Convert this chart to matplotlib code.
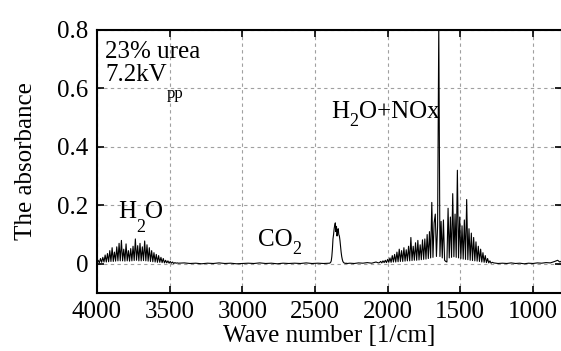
import matplotlib
matplotlib.use('Agg')
import matplotlib.pyplot as plt
from matplotlib.transforms import offset_copy
import numpy as np

plt.rcParams['font.family'] = 'Liberation Serif'

# H2O band, 4000 -> 3440 cm-1, step 8
h2o_wn = np.arange(4000, 3439, -8)
h2o_abs = [0.004, 0.012, 0.003, 0.018, 0.005, 0.022, 0.006, 0.030, 0.006, 0.035,
           0.007, 0.045, 0.008, 0.055, 0.008, 0.040, 0.009, 0.058, 0.010, 0.070,
           0.010, 0.080, 0.010, 0.050, 0.009, 0.068, 0.010, 0.045, 0.009, 0.052,
           0.010, 0.060, 0.011, 0.085, 0.012, 0.062, 0.010, 0.070, 0.010, 0.058,
           0.011, 0.078, 0.010, 0.065, 0.009, 0.055, 0.008, 0.045, 0.007, 0.038,
           0.006, 0.032, 0.005, 0.028, 0.005, 0.022, 0.004, 0.018, 0.003, 0.012,
           0.003, 0.010, 0.002, 0.008, 0.002, 0.006, 0.001, 0.004, 0.002, 0.003,
           0.002]

# quiet baseline between bands
base1_wn = [3400, 3360, 3320, 3280, 3240, 3200, 3160, 3120, 3080, 3040, 3000,
            2960, 2920, 2880, 2840, 2800, 2760, 2720, 2680, 2640, 2600, 2560,
            2520, 2480, 2440, 2404]
base1_abs = [0.003, 0.001, 0.002, 0.000, 0.002, 0.001, 0.003, 0.001, 0.002, 0.000,
             0.001, 0.002, 0.001, 0.003, 0.001, 0.002, 0.000, 0.002, 0.001, 0.002,
             0.001, 0.003, 0.001, 0.002, 0.001, 0.002]

# CO2 band, 2400 -> 2280 cm-1, step 4
co2_wn = np.arange(2400, 2279, -4)
co2_abs = [0.002, 0.003, 0.005, 0.010, 0.025, 0.050, 0.085, 0.100, 0.120, 0.132,
           0.140, 0.110, 0.128, 0.095, 0.115, 0.120, 0.100, 0.095, 0.080, 0.060,
           0.040, 0.025, 0.015, 0.008, 0.005, 0.003, 0.002, 0.002, 0.001, 0.002,
           0.001]

base2_wn = [2260, 2230, 2200, 2170, 2140, 2110, 2080, 2064]
base2_abs = [0.002, 0.001, 0.003, 0.002, 0.004, 0.002, 0.006, 0.003]

# H2O + NOx band, 2056 -> 1280 cm-1, step 8
nox_wn = np.arange(2056, 1279, -8)
nox_abs = [0.004, 0.008, 0.003, 0.010, 0.004, 0.012, 0.004, 0.015, 0.005, 0.020,
           0.005, 0.028, 0.006, 0.032, 0.006, 0.040, 0.007, 0.050, 0.008, 0.045,
           0.008, 0.055, 0.009, 0.048, 0.010, 0.060, 0.010, 0.090, 0.011, 0.060,
           0.012, 0.072, 0.012, 0.080, 0.013, 0.065, 0.014, 0.082, 0.015, 0.085,
           0.016, 0.100, 0.018, 0.110, 0.020, 0.210, 0.022, 0.140, 0.170, 0.025,
           0.130, 0.820, 0.025, 0.145, 0.020, 0.150, 0.012, 0.008, 0.006, 0.190,
           0.020, 0.160, 0.022, 0.240, 0.024, 0.170, 0.022, 0.320, 0.020, 0.160,
           0.018, 0.130, 0.016, 0.150, 0.015, 0.220, 0.014, 0.120, 0.012, 0.105,
           0.011, 0.090, 0.010, 0.075, 0.009, 0.060, 0.008, 0.050, 0.006, 0.038,
           0.005, 0.028, 0.004, 0.018, 0.003, 0.010, 0.002, 0.005]

base3_wn = [1270, 1240, 1210, 1180, 1150, 1120, 1090, 1060, 1030, 1000, 970,
            940, 910, 880, 850, 830, 815, 800]
base3_abs = [0.003, 0.001, 0.002, 0.001, 0.003, 0.001, 0.002, 0.000, 0.002, 0.001,
             0.003, 0.002, 0.004, 0.003, 0.008, 0.012, 0.006, 0.010]

wn = np.concatenate([h2o_wn, base1_wn, co2_wn, base2_wn, nox_wn, base3_wn])
ab = np.concatenate([h2o_abs, base1_abs, co2_abs, base2_abs, nox_abs, base3_abs])

fontsize = 18
fig = plt.figure(figsize=(5.61, 3.51), dpi=100)
ax = fig.add_axes([97 / 561, 1 - 293 / 351, 465 / 561, 263 / 351])

ax.plot(wn, ab, color='k', lw=0.8)

ax.set_xlim(4000, 800)
ax.set_ylim(-0.1, 0.8)
ax.set_xticks([4000, 3500, 3000, 2500, 2000, 1500, 1000])
ax.set_yticks([0, 0.2, 0.4, 0.6, 0.8])
ax.set_yticklabels(['0', '0.2', '0.4', '0.6', '0.8'])
ax.grid(True, ls=(0, (3, 3)), color='#a0a0a0', lw=0.8)
ax.tick_params(direction='in', length=5, width=1.2, top=True, right=True,
               labelsize=fontsize, pad=6)
for s in ax.spines.values():
    s.set_linewidth(1.5)

ax.set_xlabel('Wave number [1/cm]', fontsize=fontsize)
ax.set_ylabel('The absorbance', fontsize=fontsize)
ax.xaxis.set_label_coords(0.5, -0.12)
ax.yaxis.set_label_coords(-0.13, 0.5)


# text with hand-placed subscripts: parts are (string, drop in px, size)
def label(x, y, parts):
    renderer = fig.canvas.get_renderer()
    dx = 0
    for s, dy, fs in parts:
        tr = offset_copy(ax.transData, fig=fig, x=dx, y=-dy, units='dots')
        t = ax.text(x, y, s, fontsize=fs, va='baseline', transform=tr)
        dx += t.get_window_extent(renderer).width


label(3945, 0.705, [('23% urea', 0, fontsize)])
label(3945, 0.626, [('7.2kV', 0, fontsize), ('pp', 17, 12)])
label(3856, 0.158, [('H', 0, fontsize), ('2', 14, 13), ('O', 0, fontsize)])
label(2893, 0.062, [('CO', 0, fontsize), ('2', 8, 13)])
label(2386, 0.50, [('H', 0, fontsize), ('2', 8, 13), ('O+NOx', 0, fontsize)])

fig.savefig('out.png', dpi=100)
